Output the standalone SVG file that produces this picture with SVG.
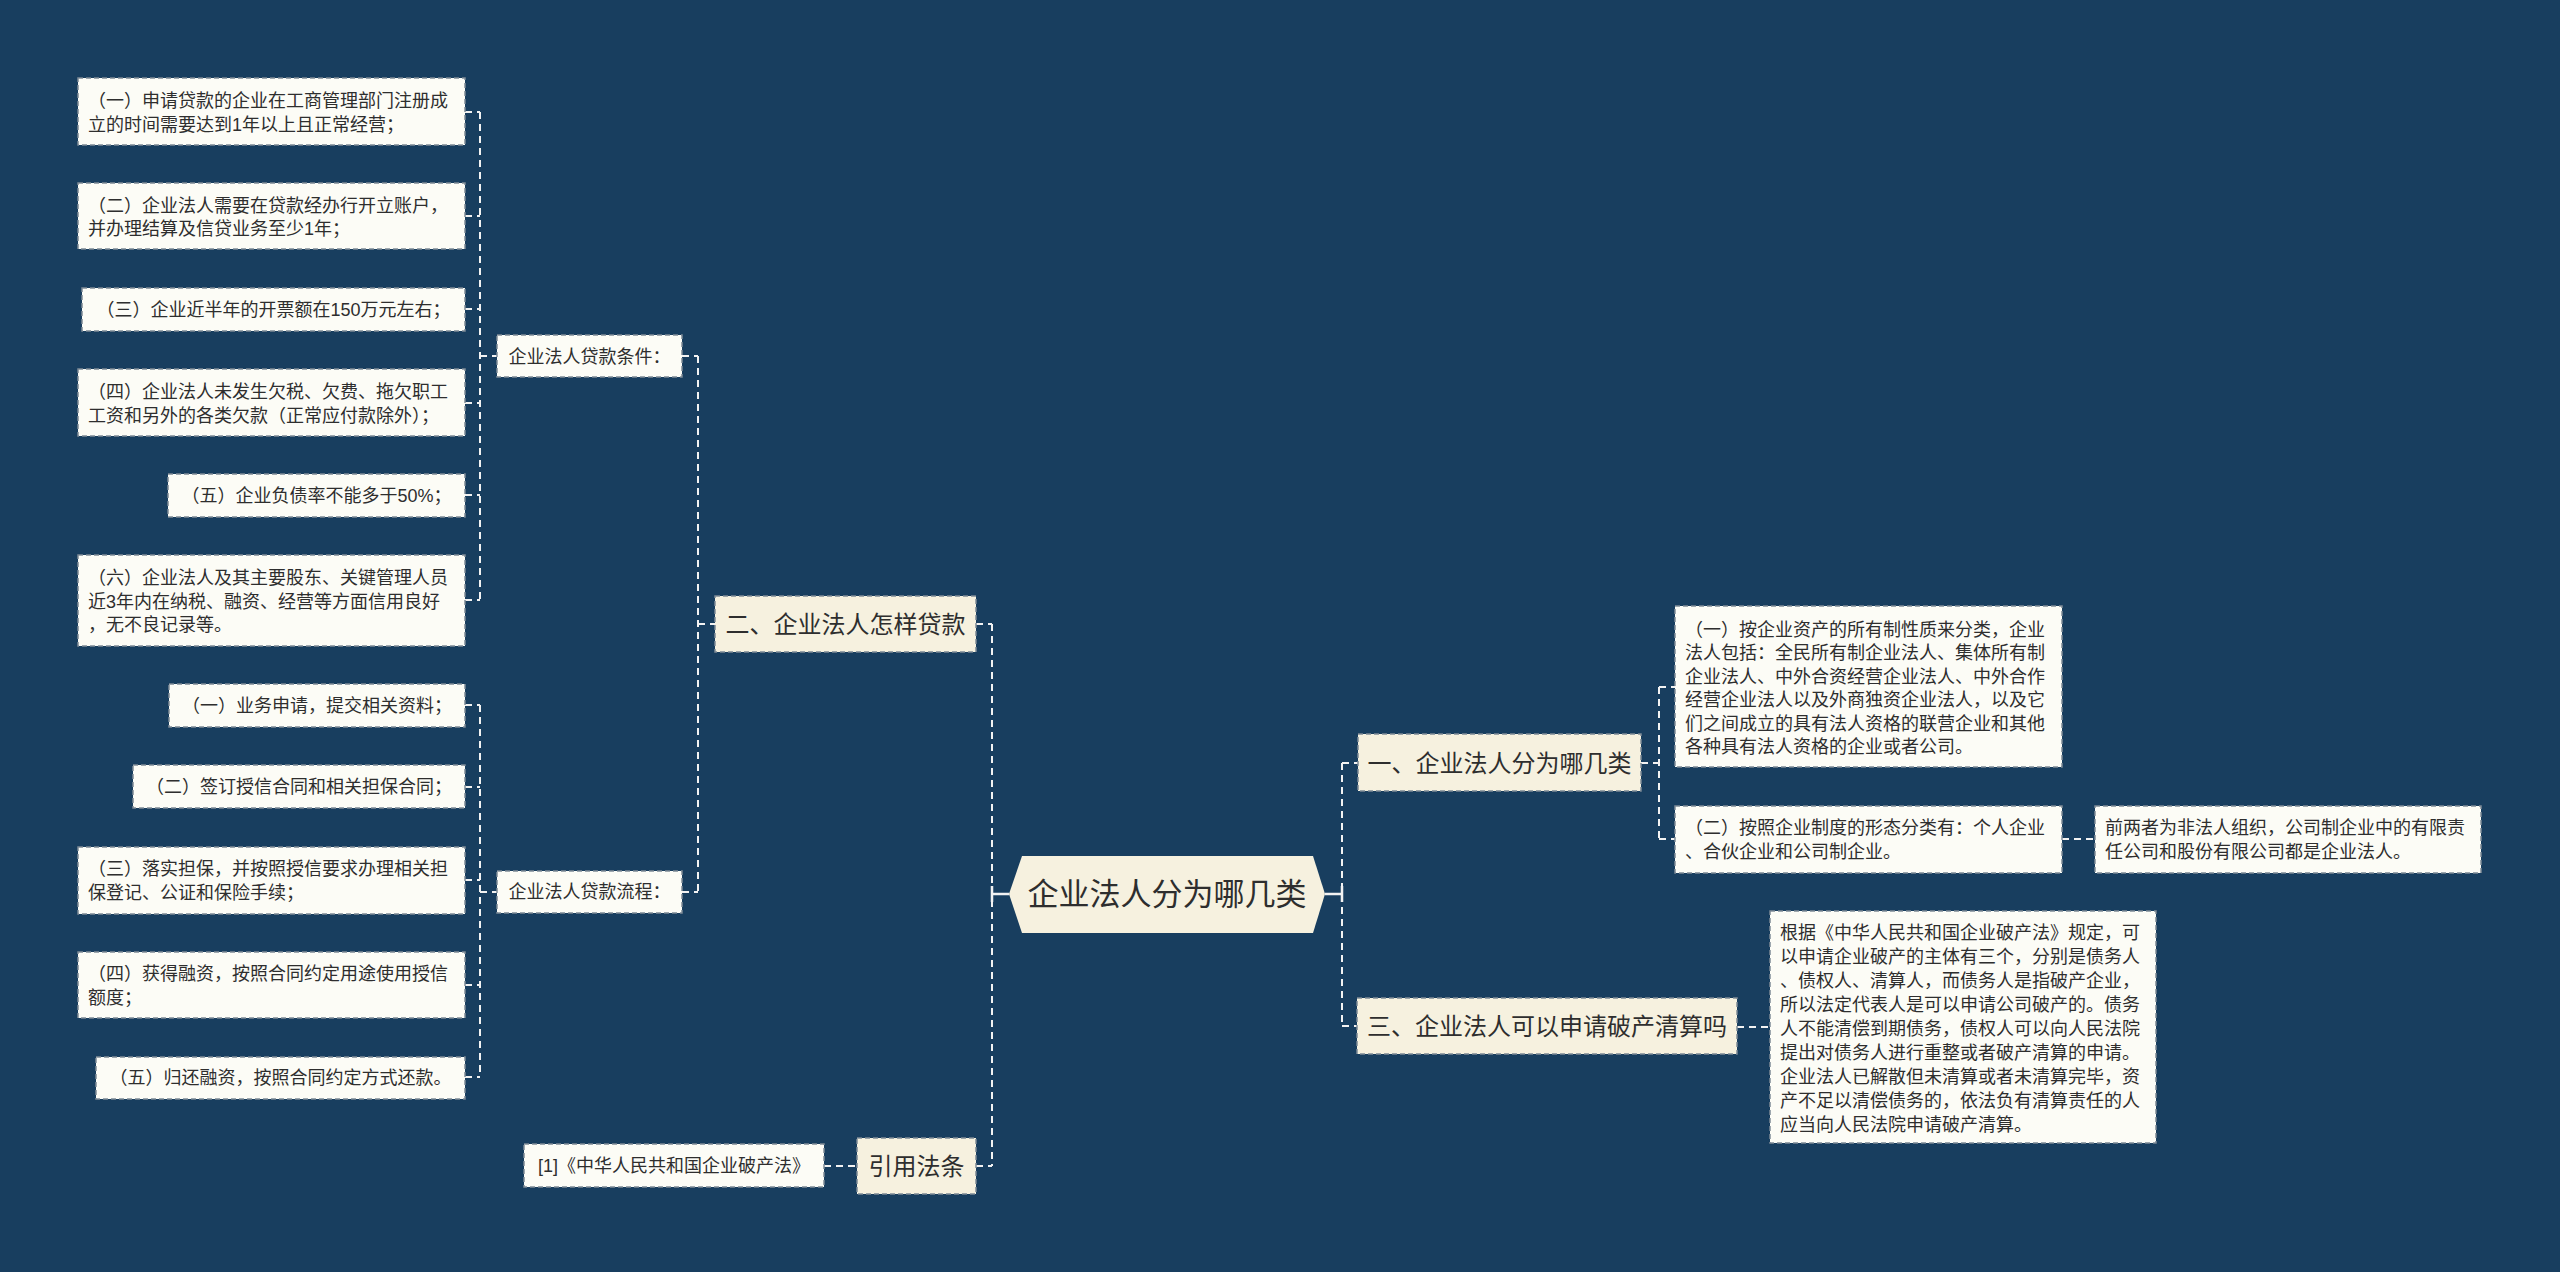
<svg xmlns="http://www.w3.org/2000/svg" width="2560" height="1272" viewBox="0 0 2560 1272">
<defs>
<style>
.bg{fill:#183e5f}
.leaf{fill:#fcfcf6;stroke:#7d8a97;stroke-width:1.5;stroke-dasharray:5 3}
.l1{fill:#f6f1df;stroke:#7d8a97;stroke-width:1.5;stroke-dasharray:5 3}
.hex{fill:#f6f1df}
text{font-family:"Liberation Sans","Noto Sans CJK SC",sans-serif;fill:#2e2e2e;dominant-baseline:central}
.t18{font-size:18px}
.t24{font-size:24px}
.t31{font-size:31px}
.conn{fill:none;stroke:#f2f2f2;stroke-width:2;stroke-dasharray:7 5}
.solid{fill:none;stroke:#f2f2f2;stroke-width:2.5}
</style>
</defs>
<rect class="bg" x="0" y="0" width="2560" height="1272"/>

<g id="connectors">
<path class="conn" d="M480 112V600M465 112H480M465 216H480M465 309H480M465 403H480M465 495H480M465 600H480M480 356H497"/>
<path class="conn" d="M480 705V1077M465 705H480M465 787H480M465 880H480M465 985H480M465 1077H480M480 892H497"/>
<path class="conn" d="M698 356V892M682 356H698M682 892H698M698 624H715"/>
<path class="conn" d="M992 624V1166M976 624H992M976 1166H992"/>
<path class="solid" d="M992 894H1009M992 886V902"/>
<path class="conn" d="M1342 763V1026M1342 763H1358M1342 1026H1357"/>
<path class="solid" d="M1325 894H1342M1342 886V902"/>
<path class="conn" d="M1659 687V839M1641 763H1659M1659 687H1675M1659 839H1675"/>
<path class="conn" d="M2062 839H2095"/>
<path class="conn" d="M1737 1027H1770"/>
<path class="conn" d="M824 1166H857"/>
</g>

<g id="center">
<polygon class="hex" points="1009,894 1022,856 1313,856 1325,894 1313,933 1022,933"/>
<text class="t31" x="1167" y="894" text-anchor="middle">企业法人分为哪几类</text>
</g>

<g id="n-er">
<rect class="l1" x="715" y="596" width="261" height="56"/>
<text class="t24" x="845.5" y="624" text-anchor="middle">二、企业法人怎样贷款</text>
</g>
<g id="n-tiaojian">
<rect class="leaf" x="497" y="335" width="185" height="42"/>
<text class="t18" x="589.5" y="356.5" text-anchor="middle">企业法人贷款条件：</text>
</g>
<g id="n-l1">
<rect class="leaf" x="78" y="78" width="387" height="67"/>
<text class="t18" x="88" y="101">（一）申请贷款的企业在工商管理部门注册成</text>
<text class="t18" x="88" y="124.5">立的时间需要达到1年以上且正常经营；</text>
</g>
<g id="n-l2">
<rect class="leaf" x="78" y="183" width="387" height="66"/>
<text class="t18" x="88" y="205.5">（二）企业法人需要在贷款经办行开立账户，</text>
<text class="t18" x="88" y="229">并办理结算及信贷业务至少1年；</text>
</g>
<g id="n-l3">
<rect class="leaf" x="82" y="288" width="383" height="43"/>
<text class="t18" x="273.5" y="310" text-anchor="middle">（三）企业近半年的开票额在150万元左右；</text>
</g>
<g id="n-l4">
<rect class="leaf" x="78" y="369" width="387" height="67"/>
<text class="t18" x="88" y="392">（四）企业法人未发生欠税、欠费、拖欠职工</text>
<text class="t18" x="88" y="415.5">工资和另外的各类欠款（正常应付款除外）；</text>
</g>
<g id="n-l5">
<rect class="leaf" x="168" y="474" width="297" height="43"/>
<text class="t18" x="316.5" y="496" text-anchor="middle">（五）企业负债率不能多于50%；</text>
</g>
<g id="n-l6">
<rect class="leaf" x="78" y="555" width="387" height="91"/>
<text class="t18" x="88" y="578">（六）企业法人及其主要股东、关键管理人员</text>
<text class="t18" x="88" y="601.5">近3年内在纳税、融资、经营等方面信用良好</text>
<text class="t18" x="88" y="625">，无不良记录等。</text>
</g>

<g id="n-liucheng">
<rect class="leaf" x="497" y="871" width="185" height="42"/>
<text class="t18" x="589.5" y="892" text-anchor="middle">企业法人贷款流程：</text>
</g>
<g id="n-f1">
<rect class="leaf" x="169" y="684" width="296" height="43"/>
<text class="t18" x="317" y="706" text-anchor="middle">（一）业务申请，提交相关资料；</text>
</g>
<g id="n-f2">
<rect class="leaf" x="133" y="765" width="332" height="43"/>
<text class="t18" x="299" y="787" text-anchor="middle">（二）签订授信合同和相关担保合同；</text>
</g>
<g id="n-f3">
<rect class="leaf" x="78" y="847" width="387" height="67"/>
<text class="t18" x="88" y="869">（三）落实担保，并按照授信要求办理相关担</text>
<text class="t18" x="88" y="892.5">保登记、公证和保险手续；</text>
</g>
<g id="n-f4">
<rect class="leaf" x="78" y="952" width="387" height="66"/>
<text class="t18" x="88" y="974">（四）获得融资，按照合同约定用途使用授信</text>
<text class="t18" x="88" y="997.5">额度；</text>
</g>
<g id="n-f5">
<rect class="leaf" x="96" y="1057" width="369" height="42"/>
<text class="t18" x="280.5" y="1078" text-anchor="middle">（五）归还融资，按照合同约定方式还款。</text>
</g>

<g id="n-yinyong">
<rect class="l1" x="857" y="1138" width="119" height="56"/>
<text class="t24" x="916.5" y="1166" text-anchor="middle">引用法条</text>
</g>
<g id="n-law">
<rect class="leaf" x="524" y="1144" width="300" height="43"/>
<text class="t18" x="674" y="1165.5" text-anchor="middle">[1]《中华人民共和国企业破产法》</text>
</g>

<g id="n-yi">
<rect class="l1" x="1358" y="734" width="283" height="57"/>
<text class="t24" x="1499.5" y="763" text-anchor="middle">一、企业法人分为哪几类</text>
</g>
<g id="n-r1">
<rect class="leaf" x="1675" y="606" width="387" height="161"/>
<text class="t18" x="1685" y="629.5">（一）按企业资产的所有制性质来分类，企业</text>
<text class="t18" x="1685" y="653">法人包括：全民所有制企业法人、集体所有制</text>
<text class="t18" x="1685" y="676.5">企业法人、中外合资经营企业法人、中外合作</text>
<text class="t18" x="1685" y="700">经营企业法人以及外商独资企业法人，以及它</text>
<text class="t18" x="1685" y="723.5">们之间成立的具有法人资格的联营企业和其他</text>
<text class="t18" x="1685" y="747">各种具有法人资格的企业或者公司。</text>
</g>
<g id="n-r2">
<rect class="leaf" x="1675" y="806" width="387" height="67"/>
<text class="t18" x="1685" y="828">（二）按照企业制度的形态分类有：个人企业</text>
<text class="t18" x="1685" y="851.5">、合伙企业和公司制企业。</text>
</g>
<g id="n-r3">
<rect class="leaf" x="2095" y="806" width="386" height="67"/>
<text class="t18" x="2105" y="828">前两者为非法人组织，公司制企业中的有限责</text>
<text class="t18" x="2105" y="851.5">任公司和股份有限公司都是企业法人。</text>
</g>

<g id="n-san">
<rect class="l1" x="1357" y="998" width="380" height="56"/>
<text class="t24" x="1547" y="1026" text-anchor="middle">三、企业法人可以申请破产清算吗</text>
</g>
<g id="n-r4">
<rect class="leaf" x="1770" y="911" width="386" height="232"/>
<text class="t18" x="1780" y="933">根据《中华人民共和国企业破产法》规定，可</text>
<text class="t18" x="1780" y="957">以申请企业破产的主体有三个，分别是债务人</text>
<text class="t18" x="1780" y="981">、债权人、清算人，而债务人是指破产企业，</text>
<text class="t18" x="1780" y="1005">所以法定代表人是可以申请公司破产的。债务</text>
<text class="t18" x="1780" y="1029">人不能清偿到期债务，债权人可以向人民法院</text>
<text class="t18" x="1780" y="1053">提出对债务人进行重整或者破产清算的申请。</text>
<text class="t18" x="1780" y="1077">企业法人已解散但未清算或者未清算完毕，资</text>
<text class="t18" x="1780" y="1101">产不足以清偿债务的，依法负有清算责任的人</text>
<text class="t18" x="1780" y="1125">应当向人民法院申请破产清算。</text>
</g>
</svg>
